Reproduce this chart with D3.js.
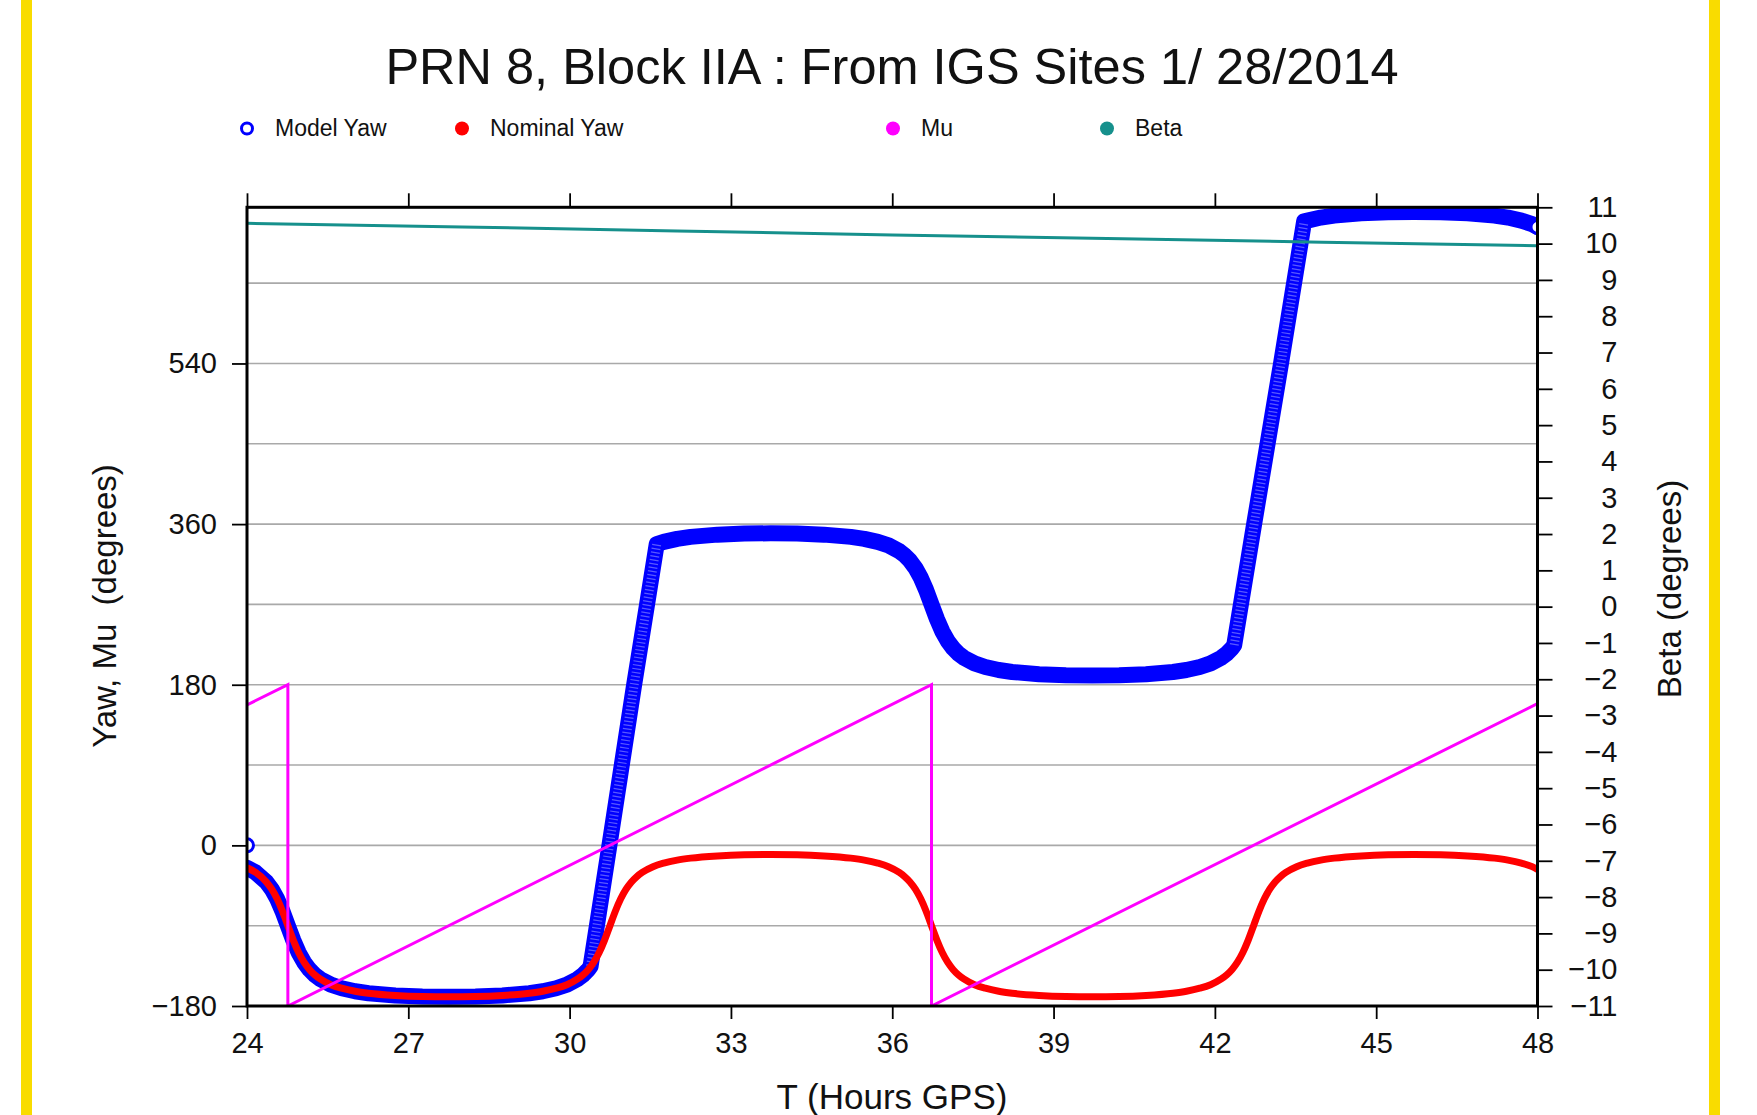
<!DOCTYPE html>
<html>
<head>
<meta charset="utf-8">
<script src="https://cdn.jsdelivr.net/npm/d3@7"></script>
<style>
  body { margin: 0; background: #fff; }
  svg text { font-family: "Liberation Sans", Helvetica, Arial, sans-serif; fill: #111; }
</style>
</head>
<body>
<svg id="chart" width="1757" height="1115"></svg>
<script>
// ---- data (hours GPS, degrees) ----
const nominalYaw = [
  [24.0,-25.1],[24.16,-30.3],[24.36,-41.0],[24.46,-49.1],[24.56,-59.9],[24.66,-73.8],[24.76,-90],
  [24.86,-106.2],[24.96,-120.1],[25.06,-130.9],[25.16,-139.0],[25.26,-145.1],[25.36,-149.7],
  [25.56,-156.1],[25.76,-160.1],[26.01,-163.5],[26.26,-165.7],[26.76,-168.2],[27.26,-169.4],
  [27.75,-169.7],[28.25,-169.4],[28.75,-168.2],[29.25,-165.7],[29.5,-163.5],[29.75,-160.1],
  [29.95,-156.1],[30.15,-149.7],[30.25,-145.1],[30.35,-139.0],[30.45,-130.9],[30.55,-120.1],
  [30.65,-106.2],[30.75,-90],[30.85,-73.8],[30.95,-59.9],[31.05,-49.1],[31.15,-41.0],
  [31.25,-34.9],[31.35,-30.3],[31.55,-23.9],[31.75,-19.9],[32.0,-16.5],[32.25,-14.3],
  [32.75,-11.8],[33.25,-10.6],[33.74,-10.3],[34.23,-10.6],[34.73,-11.8],[35.23,-14.3],
  [35.48,-16.5],[35.73,-19.9],[35.93,-23.9],[36.13,-30.3],[36.23,-34.9],[36.33,-41.0],
  [36.43,-49.1],[36.53,-59.9],[36.63,-73.8],[36.73,-90],[36.83,-106.2],[36.93,-120.1],
  [37.03,-130.9],[37.13,-139.0],[37.23,-145.1],[37.33,-149.7],[37.53,-156.1],[37.73,-160.1],
  [37.98,-163.5],[38.23,-165.7],[38.73,-168.2],[39.23,-169.4],[39.72,-169.7],[40.22,-169.4],
  [40.72,-168.2],[41.22,-165.7],[41.47,-163.5],[41.72,-160.1],[41.92,-156.1],[42.12,-149.7],
  [42.22,-145.1],[42.32,-139.0],[42.42,-130.9],[42.52,-120.1],[42.62,-106.2],[42.72,-90],
  [42.82,-73.8],[42.92,-59.9],[43.02,-49.1],[43.12,-41.0],[43.22,-34.9],[43.32,-30.3],
  [43.52,-23.9],[43.72,-19.9],[43.97,-16.5],[44.22,-14.3],[44.72,-11.8],[45.22,-10.6],
  [45.7,-10.3],[46.2,-10.6],[46.7,-11.8],[47.2,-14.3],[47.45,-16.5],[47.7,-19.9],
  [47.9,-23.9],[48.0,-27.1]
];

const modelStart = [24.0, 0];
const modelYaw = [
  [24.0,-25.1],[24.16,-30.3],[24.36,-41.0],[24.46,-49.1],[24.56,-59.9],[24.66,-73.8],[24.76,-90],
  [24.86,-106.2],[24.96,-120.1],[25.06,-130.9],[25.16,-139.0],[25.26,-145.1],[25.36,-149.7],
  [25.56,-156.1],[25.76,-160.1],[26.01,-163.5],[26.26,-165.7],[26.76,-168.2],[27.26,-169.4],
  [27.75,-169.7],[28.25,-169.4],[28.75,-168.2],[29.25,-165.7],[29.5,-163.5],[29.75,-160.1],
  [29.95,-156.1],[30.15,-149.7],[30.25,-145.1],[30.35,-139.0],
  [30.39,-135.4],[30.74,0],[31.2,180],[31.44,270],[31.62,337.6],
  [31.75,340.1],[32.0,343.5],[32.25,345.7],[32.75,348.2],[33.25,349.4],[33.74,349.7],
  [34.23,349.4],[34.73,348.2],[35.23,345.7],[35.48,343.5],[35.73,340.1],[35.93,336.1],
  [36.13,329.7],[36.23,325.1],[36.33,319.0],[36.43,310.9],[36.53,300.1],[36.63,286.2],
  [36.73,270],[36.83,253.8],[36.93,239.9],[37.03,229.1],[37.13,221.0],[37.23,214.9],
  [37.33,210.3],[37.53,203.9],[37.73,199.9],[37.98,196.5],[38.23,194.3],[38.73,191.8],
  [39.23,190.6],[39.72,190.3],[40.22,190.6],[40.72,191.8],[41.22,194.3],[41.47,196.5],
  [41.72,199.9],[41.92,203.9],[42.12,210.3],[42.22,214.9],[42.32,221.0],
  [42.36,224.6],[42.73,360],[43.23,540],[43.66,699.3],
  [43.72,700.1],[43.97,703.5],[44.22,705.7],[44.72,708.2],[45.22,709.4],[45.7,709.7],
  [46.2,709.4],[46.7,708.2],[47.2,705.7],[47.45,703.5],[47.7,700.1],[47.9,696.1],[48.0,692.9]
];
// eclipse spin-up stretches, where the markers show as separate rings
const slewWindows = [[30.39, 31.62], [42.36, 43.66]];

const mu = [[24.0,157.4],[24.76,180],[24.76,-180],[36.73,180],[36.73,-180],[48.0,158.9]];
const beta = [[24,10.56],[28,10.46],[32,10.35],[36,10.24],[40,10.14],[44,10.04],[48,9.94]];

const hourTicks = [24,27,30,33,36,39,42,45,48];
const yawTicks = [-180,0,180,360,540];
const yawGrid = [-90,0,90,180,270,360,450,540,630];
const betaTicks = [-11,-10,-9,-8,-7,-6,-5,-4,-3,-2,-1,0,1,2,3,4,5,6,7,8,9,10,11];

const legendItems = [
  {name:'Model Yaw', color:'#0000ff', open:true, x:247},
  {name:'Nominal Yaw', color:'#ff0000', open:false, x:462},
  {name:'Mu', color:'#ff00ff', open:false, x:893},
  {name:'Beta', color:'#16908c', open:false, x:1107}
];

// ---- layout ----
const W = 1757, H = 1115;
const plot = {left:247, right:1537.5, top:207.3, bottom:1006};

const svg = d3.select('#chart');
svg.append('rect').attr('width',W).attr('height',H).attr('fill','#fff');

// yellow side bars
svg.append('rect').attr('x',21).attr('y',0).attr('width',11).attr('height',H).attr('fill','#f9dc00');
svg.append('rect').attr('x',1709).attr('y',0).attr('width',11).attr('height',H).attr('fill','#f9dc00');

const x = d3.scaleLinear().domain([24,48]).range([plot.left, plot.right]);
const yL = d3.scaleLinear().domain([-180,715]).range([plot.bottom, plot.top]);
const yR = d3.scaleLinear().domain([-11,11]).range([plot.bottom, plot.top]);

svg.append('defs').append('clipPath').attr('id','plotclip')
  .append('rect')
  .attr('x',plot.left).attr('y',plot.top)
  .attr('width',plot.right-plot.left).attr('height',plot.bottom-plot.top);

// grid lines
svg.append('g').selectAll('line')
  .data(yawGrid)
  .enter()
  .append('line')
  .attr('x1',plot.left).attr('x2',plot.right)
  .attr('y1',d => yL(d)).attr('y2',d => yL(d))
  .attr('stroke','#a9a9a9')
  .attr('stroke-width',1.6);

const g = svg.append('g').attr('clip-path','url(#plotclip)');

const lineL = d3.line().x(d => x(d[0])).y(d => yL(d[1]));
const lineR = d3.line().x(d => x(d[0])).y(d => yR(d[1]));

// model yaw: dense ring markers -> thick band
g.append('path')
  .datum(modelYaw)
  .attr('d',lineL)
  .attr('fill','none')
  .attr('stroke','#0000ff')
  .attr('stroke-width',16)
  .attr('stroke-linejoin','round')
  .attr('stroke-linecap','round');

slewWindows.forEach(function (w) {
  let seg = modelYaw.filter(d => d[0] >= w[0] && d[0] <= w[1]);
  g.append('path')
    .datum(seg)
    .attr('d',lineL)
    .attr('fill','none')
    .attr('stroke','#ffffff')
    .attr('stroke-opacity',0.35)
    .attr('stroke-width',9)
    .attr('stroke-dasharray','1.2 2.6');
});

g.selectAll('.endRing')
  .data([modelStart, modelYaw[modelYaw.length-1]])
  .enter()
  .append('circle')
  .attr('class','endRing')
  .attr('cx',d => x(d[0]))
  .attr('cy',d => yL(d[1]))
  .attr('r',6.5)
  .attr('fill','#fff')
  .attr('stroke','#0000ff')
  .attr('stroke-width',3);

// nominal yaw
g.append('path')
  .datum(nominalYaw)
  .attr('d',lineL.curve(d3.curveMonotoneX))
  .attr('fill','none')
  .attr('stroke','#ff0000')
  .attr('stroke-width',7)
  .attr('stroke-linejoin','round');
lineL.curve(d3.curveLinear);

// mu
g.append('path')
  .datum(mu)
  .attr('d',lineL)
  .attr('fill','none')
  .attr('stroke','#ff00ff')
  .attr('stroke-width',3);

// beta on right axis
g.append('path')
  .datum(beta)
  .attr('d',lineR)
  .attr('fill','none')
  .attr('stroke','#16908c')
  .attr('stroke-width',3);

// frame
svg.append('rect')
  .attr('x',plot.left).attr('y',plot.top)
  .attr('width',plot.right-plot.left).attr('height',plot.bottom-plot.top)
  .attr('fill','none')
  .attr('stroke','#000')
  .attr('stroke-width',3);

// axes
function styleAxis(sel) {
  sel.select('.domain').remove();
  sel.selectAll('.tick line').attr('stroke','#000').attr('stroke-width',1.8);
  sel.selectAll('.tick text').attr('font-size',29).attr('fill','#111');
}

svg.append('g')
  .attr('transform','translate(0,' + plot.bottom + ')')
  .call(d3.axisBottom(x).tickValues(hourTicks).tickSize(13).tickPadding(13))
  .call(styleAxis);

svg.append('g')
  .attr('transform','translate(0,' + plot.top + ')')
  .call(d3.axisTop(x).tickValues(hourTicks).tickSize(14).tickFormat(''))
  .call(styleAxis);

svg.append('g')
  .attr('transform','translate(' + plot.left + ',0)')
  .call(d3.axisLeft(yL).tickValues(yawTicks).tickSize(15).tickPadding(15))
  .call(styleAxis);

let rightAxis = svg.append('g')
  .attr('transform','translate(' + plot.right + ',0)')
  .call(d3.axisRight(yR).tickValues(betaTicks).tickSize(15))
  .call(styleAxis);
rightAxis.selectAll('.tick text')
  .attr('text-anchor','end')
  .attr('x',80);

// titles
svg.append('text')
  .attr('x',892).attr('y',84)
  .attr('text-anchor','middle')
  .attr('font-size',50.5)
  .text('PRN 8, Block IIA : From IGS Sites 1/ 28/2014');

svg.append('text')
  .attr('x',892).attr('y',1109)
  .attr('text-anchor','middle')
  .attr('font-size',35)
  .text('T (Hours GPS)');

svg.append('text')
  .attr('transform','translate(116,606) rotate(-90)')
  .attr('text-anchor','middle')
  .attr('font-size',33)
  .style('white-space','pre')
  .text('Yaw, Mu  (degrees)');

svg.append('text')
  .attr('transform','translate(1681,589) rotate(-90)')
  .attr('text-anchor','middle')
  .attr('font-size',33)
  .text('Beta (degrees)');

// legend
let leg = svg.append('g').selectAll('g')
  .data(legendItems)
  .enter()
  .append('g')
  .attr('transform',d => 'translate(' + d.x + ',128.5)');

leg.append('circle')
  .attr('r',d => d.open ? 5.5 : 7)
  .attr('fill',d => d.open ? '#fff' : d.color)
  .attr('stroke',d => d.open ? d.color : 'none')
  .attr('stroke-width',3);

leg.append('text')
  .attr('x',28)
  .attr('y',7.5)
  .attr('font-size',23)
  .text(d => d.name);
</script>
</body>
</html>
